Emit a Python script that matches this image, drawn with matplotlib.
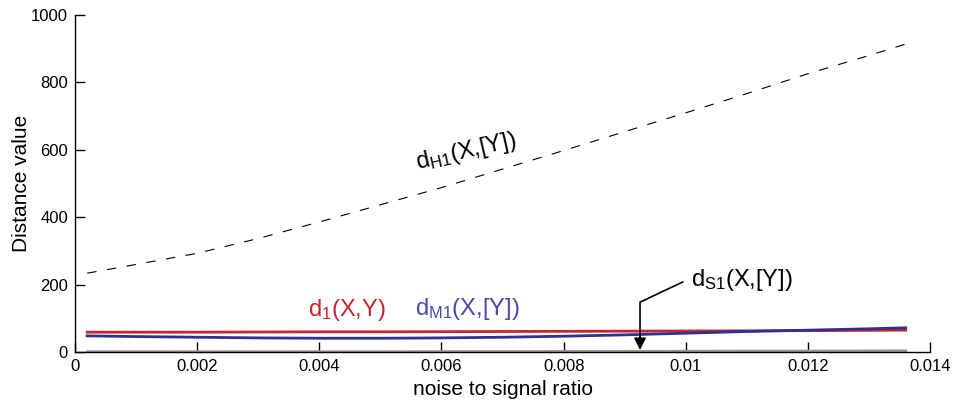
import matplotlib.pyplot as plt
import numpy as np

plt.rcParams['font.family'] = ['Liberation Sans', 'DejaVu Sans']
plt.rcParams['mathtext.fontset'] = 'custom'
plt.rcParams['mathtext.rm'] = 'Liberation Sans'
plt.rcParams['mathtext.it'] = 'Liberation Sans'

# noise to signal ratio samples
nsr = [0.0002, 0.001, 0.002, 0.003, 0.004, 0.005, 0.006, 0.007, 0.008,
       0.009, 0.010, 0.011, 0.012, 0.013, 0.0136]

d_h1 = [234, 260, 293, 337, 386, 437, 488, 543, 598, 654, 710, 767, 826, 880, 914]
d_1 = [59, 59, 59, 59.5, 60, 60, 60.5, 61, 61.5, 62, 62.5, 63, 63.5, 64.5, 65]
d_m1 = [48, 46, 44, 42, 41, 41, 42, 44, 47, 51, 56, 61, 65, 69, 72]
d_s1 = [1, 1, 1, 1, 1, 1, 1.5, 1.5, 2, 2, 2.5, 3, 3, 3.5, 4]

red = '#c4262b'
blue = '#2e3192'

fig = plt.figure(figsize=(9.55, 4.07), dpi=100)
ax = fig.add_axes([0.0785, 0.135, 0.8955, 0.828])

ax.plot(nsr, d_h1, color='black', lw=0.8, dashes=(8.5, 9.5))
ax.plot(nsr, d_s1, color='#999999', lw=2.0)
ax.plot(nsr, d_1, color=red, lw=2.0)
ax.plot(nsr, d_m1, color=blue, lw=2.0)

ax.set_xlim(0, 0.014)
ax.set_ylim(0, 1000)
ax.set_xticks(np.arange(0, 0.0141, 0.002))
ax.set_xticklabels(['0', '0.002', '0.004', '0.006', '0.008', '0.01', '0.012', '0.014'])
ax.set_yticks(range(0, 1001, 200))
ax.tick_params(direction='in', length=7, width=1, labelsize=12, pad=5)
for side in ['top', 'right']:
    ax.spines[side].set_visible(False)
for side in ['left', 'bottom']:
    ax.spines[side].set_linewidth(1)

ax.set_xlabel('noise to signal ratio', fontsize=15, labelpad=4)
ax.set_ylabel('Distance value', fontsize=15, labelpad=0)

lab = 17
ax.text(0.00640, 595, 'd$_{\\mathregular{H1}}$(X,[Y])', fontsize=lab, rotation=13,
        ha='center', va='center')
ax.text(0.00445, 125, 'd$_{\\mathregular{1}}$(X,Y)', fontsize=lab, color=red,
        ha='center', va='center')
ax.text(0.00642, 128, 'd$_{\\mathregular{M1}}$(X,[Y])', fontsize=lab, color='#4a4aa6',
        ha='center', va='center')
ax.text(0.01009, 213, 'd$_{\\mathregular{S1}}$(X,[Y])', fontsize=lab,
        ha='left', va='center')

# leader to the near-zero S1 curve
ax.plot([0.00995, 0.00925, 0.00925], [208, 148, 30], color='black', lw=1.2)
ax.annotate('', xy=(0.00925, 6), xytext=(0.00925, 45),
            arrowprops=dict(arrowstyle='-|>', color='black', lw=1.2,
                            mutation_scale=18, shrinkA=0, shrinkB=0))

fig.savefig('out.png', dpi=100)
